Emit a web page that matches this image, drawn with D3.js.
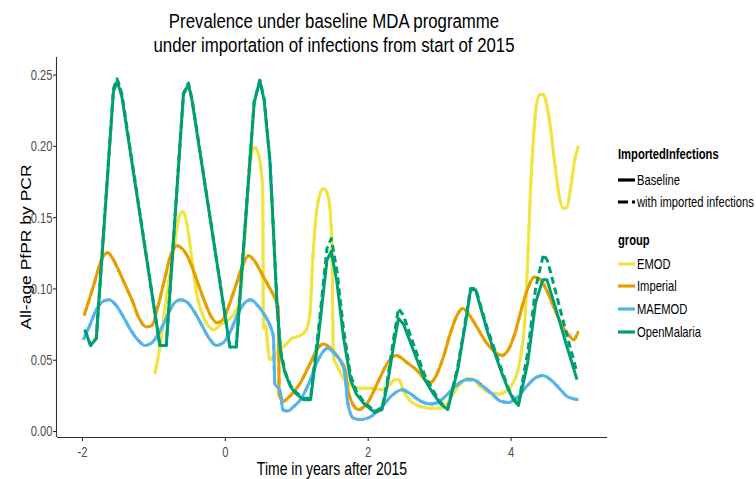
<!DOCTYPE html>
<html>
<head>
<meta charset="utf-8">
<script src="https://cdn.jsdelivr.net/npm/d3@7"></script>
<style>
  html, body { margin: 0; padding: 0; background: #ffffff; }
  svg { display: block; font-family: "Liberation Sans", Arial, sans-serif; }
</style>
</head>
<body>
<svg id="chart" width="756" height="479"></svg>
<script>
// ---------------- DATA ----------------
const titleLines = ["Prevalence under baseline MDA programme", "under importation of infections from start of 2015"];
const xTitle = "Time in years after 2015";
const yTitle = "All-age PfPR by PCR";
const xTicks = [-2, 0, 2, 4];
const yTicks = [0.00, 0.05, 0.10, 0.15, 0.20, 0.25];
const groups = ["EMOD", "Imperial", "MAEMOD", "OpenMalaria"];
const groupColors = ["#F0E442", "#E69F00", "#56B4E9", "#009E73"];
const importLevels = ["Baseline", "with imported infections"];

// [time, prevalence]
const emodBaseline = [
  [-0.98,0.040],[-0.90,0.062],[-0.80,0.100],[-0.72,0.125],[-0.65,0.148],[-0.59,0.154],[-0.53,0.145],
  [-0.46,0.120],[-0.39,0.095],[-0.30,0.080],[-0.22,0.073],[-0.15,0.071],[-0.05,0.075],[0.05,0.078],
  [0.13,0.082],[0.20,0.090],[0.26,0.122],[0.31,0.160],[0.36,0.190],[0.42,0.199],[0.47,0.194],
  [0.51,0.182],[0.53,0.168],[0.54,0.072],[0.57,0.074],[0.60,0.060],[0.63,0.050],[0.68,0.052],
  [0.75,0.056],[0.84,0.060],[0.94,0.065],[1.06,0.067],[1.14,0.071],[1.19,0.082],[1.23,0.120],
  [1.28,0.152],[1.33,0.166],[1.38,0.170],[1.43,0.167],[1.47,0.157],[1.50,0.125],[1.52,0.052],
  [1.58,0.045],[1.66,0.037],[1.76,0.032],[1.90,0.030],[2.05,0.030],[2.20,0.029],[2.30,0.032],
  [2.38,0.036],[2.44,0.036],[2.50,0.028],[2.60,0.021],[2.75,0.017],[2.90,0.016],[3.02,0.016],
  [3.12,0.020],[3.22,0.028],[3.32,0.034],[3.40,0.037],[3.48,0.036],[3.58,0.031],[3.70,0.027],
  [3.85,0.026],[3.96,0.029],[4.04,0.034],[4.10,0.042],[4.15,0.055],[4.20,0.078],[4.24,0.120],
  [4.28,0.170],[4.32,0.205],[4.36,0.228],[4.41,0.236],[4.46,0.236],[4.51,0.228],[4.56,0.212],
  [4.62,0.187],[4.68,0.165],[4.74,0.156],[4.79,0.157],[4.84,0.170],[4.89,0.188],[4.95,0.200]
];
const imperialBaseline = [
  [-1.97,0.081],[-1.90,0.092],[-1.82,0.105],[-1.72,0.121],[-1.64,0.125],[-1.57,0.121],[-1.50,0.114],
  [-1.40,0.103],[-1.30,0.092],[-1.20,0.079],[-1.10,0.073],[-1.02,0.074],[-0.95,0.085],[-0.85,0.105],
  [-0.76,0.123],[-0.67,0.130],[-0.58,0.127],[-0.49,0.119],[-0.40,0.107],[-0.30,0.093],[-0.20,0.081],
  [-0.11,0.076],[-0.03,0.078],[0.05,0.087],[0.14,0.100],[0.24,0.115],[0.33,0.123],[0.42,0.119],
  [0.52,0.110],[0.62,0.101],[0.71,0.092],[0.75,0.086],[0.76,0.025],[0.82,0.021],[0.92,0.025],
  [1.06,0.034],[1.20,0.048],[1.30,0.058],[1.38,0.061],[1.50,0.057],[1.62,0.049],[1.68,0.044],
  [1.72,0.030],[1.80,0.018],[1.87,0.015],[2.00,0.020],[2.14,0.034],[2.27,0.047],[2.40,0.053],
  [2.55,0.048],[2.70,0.042],[2.80,0.036],[2.88,0.034],[2.96,0.039],[3.06,0.052],[3.16,0.069],
  [3.26,0.082],[3.33,0.086],[3.44,0.080],[3.55,0.071],[3.66,0.062],[3.77,0.056],[3.88,0.053],
  [3.98,0.058],[4.07,0.070],[4.16,0.087],[4.25,0.101],[4.33,0.108],[4.42,0.106],[4.52,0.097],
  [4.62,0.085],[4.72,0.074],[4.82,0.067],[4.88,0.064],[4.95,0.070]
];
const maemodBaseline = [
  [-1.98,0.064],[-1.90,0.073],[-1.80,0.085],[-1.70,0.091],[-1.62,0.092],[-1.52,0.088],[-1.42,0.080],
  [-1.32,0.071],[-1.22,0.064],[-1.12,0.060],[-1.02,0.062],[-0.92,0.069],[-0.82,0.079],[-0.72,0.089],
  [-0.62,0.092],[-0.52,0.090],[-0.42,0.083],[-0.32,0.074],[-0.22,0.065],[-0.12,0.060],[-0.02,0.062],
  [0.08,0.070],[0.18,0.082],[0.28,0.090],[0.36,0.092],[0.46,0.088],[0.56,0.081],[0.64,0.073],
  [0.68,0.066],[0.70,0.033],[0.75,0.030],[0.78,0.027],[0.81,0.015],[0.88,0.014],[0.96,0.017],
  [1.06,0.022],[1.18,0.034],[1.28,0.047],[1.38,0.056],[1.44,0.058],[1.54,0.054],[1.64,0.047],
  [1.68,0.040],[1.72,0.020],[1.80,0.009],[1.90,0.008],[2.04,0.010],[2.20,0.017],[2.34,0.025],
  [2.48,0.029],[2.60,0.026],[2.74,0.021],[2.88,0.019],[2.98,0.020],[3.10,0.025],[3.24,0.032],
  [3.38,0.036],[3.48,0.036],[3.60,0.032],[3.74,0.026],[3.86,0.021],[3.97,0.020],[4.10,0.024],
  [4.22,0.031],[4.34,0.037],[4.45,0.039],[4.56,0.036],[4.68,0.030],[4.80,0.024],[4.95,0.022]
];
const openMalariaBaseline = [
  [-1.96,0.071],[-1.88,0.060],[-1.80,0.065],[-1.56,0.238],[-1.51,0.245],[-1.48,0.241],[-1.44,0.234],
  [-0.91,0.060],[-0.82,0.060],[-0.58,0.236],[-0.51,0.243],[-0.46,0.232],[0.07,0.059],[0.16,0.059],
  [0.41,0.230],[0.49,0.246],[0.55,0.232],[0.63,0.190],[0.68,0.140],[0.73,0.088],[0.78,0.055],
  [0.84,0.041],[0.92,0.031],[1.00,0.026],[1.10,0.022],[1.20,0.022],[1.31,0.066],[1.43,0.120],
  [1.49,0.126],[1.57,0.104],[1.66,0.066],[1.76,0.036],[1.84,0.026],[1.95,0.019],[2.10,0.013],
  [2.20,0.015],[2.27,0.031],[2.36,0.059],[2.43,0.079],[2.50,0.075],[2.69,0.050],[2.80,0.036],
  [2.92,0.026],[3.02,0.019],[3.12,0.015],[3.26,0.043],[3.37,0.076],[3.44,0.099],[3.51,0.099],
  [3.68,0.069],[3.86,0.043],[3.96,0.030],[4.04,0.022],[4.11,0.018],[4.24,0.048],[4.35,0.090],
  [4.45,0.106],[4.51,0.106],[4.65,0.083],[4.79,0.059],[4.93,0.036]
];
const openMalariaImported = [
  [-1.96,0.071],[-1.88,0.060],[-1.80,0.065],[-1.56,0.240],[-1.51,0.247],[-1.48,0.243],[-1.44,0.236],
  [-0.91,0.060],[-0.82,0.060],[-0.58,0.237],[-0.51,0.244],[-0.46,0.233],[0.07,0.059],[0.16,0.059],
  [0.41,0.231],[0.49,0.246],[0.55,0.233],[0.63,0.191],[0.68,0.142],[0.73,0.090],[0.78,0.057],
  [0.84,0.042],[0.92,0.032],[1.00,0.027],[1.10,0.023],[1.20,0.023],[1.31,0.071],[1.43,0.128],
  [1.49,0.135],[1.57,0.112],[1.66,0.072],[1.76,0.039],[1.84,0.028],[1.95,0.020],[2.10,0.014],
  [2.20,0.016],[2.27,0.034],[2.36,0.064],[2.43,0.086],[2.50,0.081],[2.69,0.054],[2.80,0.039],
  [2.92,0.028],[3.02,0.020],[3.12,0.016],[3.26,0.045],[3.37,0.078],[3.44,0.100],[3.51,0.100],
  [3.68,0.071],[3.86,0.045],[3.96,0.031],[4.04,0.023],[4.11,0.019],[4.24,0.055],[4.35,0.100],
  [4.46,0.124],[4.52,0.119],[4.65,0.094],[4.79,0.067],[4.93,0.041]
];
// imported-infection runs of the other models overlap their baselines in the picture
const emodImported = emodBaseline;
const imperialImported = imperialBaseline;
const maemodImported = maemodBaseline;

const seriesList = [
  {group: "EMOD", level: "Baseline", values: emodBaseline},
  {group: "EMOD", level: "with imported infections", values: emodImported},
  {group: "Imperial", level: "Baseline", values: imperialBaseline},
  {group: "Imperial", level: "with imported infections", values: imperialImported},
  {group: "MAEMOD", level: "Baseline", values: maemodBaseline},
  {group: "MAEMOD", level: "with imported infections", values: maemodImported},
  {group: "OpenMalaria", level: "Baseline", values: openMalariaBaseline},
  {group: "OpenMalaria", level: "with imported infections", values: openMalariaImported}
];

// ---------------- LAYOUT ----------------
const SX = 0.8; // the reference picture is horizontally compressed
const svg = d3.select("#chart");
svg.append("rect").attr("width", 756).attr("height", 479).attr("fill", "#ffffff");

const panel = {left: 57, right: 607, top: 57, bottom: 437};
const x = d3.scaleLinear().domain([-2.35, 5.35]).range([panel.left, panel.right]);
const y = d3.scaleLinear().domain([-0.0042, 0.2623]).range([panel.bottom, panel.top]);
const color = d3.scaleOrdinal().domain(groups).range(groupColors);
const dash = d3.scaleOrdinal().domain(importLevels).range(["none", "7,4"]);

function label(g, px, py, str, size, anchor, weight) {
  return g.append("text")
    .attr("transform", `translate(${px},${py}) scale(${SX},1)`)
    .attr("text-anchor", anchor || "start")
    .attr("font-size", size)
    .attr("font-weight", weight || "normal")
    .attr("fill", "#000")
    .text(str);
}

// title
titleLines.forEach((t, i) => label(svg, (panel.left + panel.right) / 2 + 2, 28 + i * 24, t, 21, "middle"));

// lines
const smooth = d3.line().x(d => x(d[0])).y(d => y(d[1])).curve(d3.curveMonotoneX);
const straight = d3.line().x(d => x(d[0])).y(d => y(d[1])).curve(d3.curveLinear);
svg.append("g").selectAll("path").data(seriesList).join("path")
  .attr("d", d => (d.group === "OpenMalaria" ? straight : smooth)(d.values))
  .attr("fill", "none")
  .attr("stroke", d => color(d.group))
  .attr("stroke-width", 3)
  .attr("stroke-linejoin", "round")
  .attr("stroke-dasharray", d => dash(d.level));

// axes
const xAxis = d3.axisBottom(x).tickValues(xTicks).tickFormat(d => String(d)).tickSizeOuter(0).tickSize(4).tickPadding(5);
const yAxis = d3.axisLeft(y).tickValues(yTicks).tickFormat(d3.format(".2f")).tickSizeOuter(0).tickSize(4).tickPadding(3);
const gx = svg.append("g").attr("transform", `translate(0,${panel.bottom})`).call(xAxis);
const gy = svg.append("g").attr("transform", `translate(${panel.left},0)`).call(yAxis);
[gx, gy].forEach(g => {
  g.select(".domain").attr("stroke", "#333333").attr("stroke-width", 1.1);
  g.selectAll(".tick line").attr("stroke", "#333333").attr("stroke-width", 1.1);
  g.selectAll(".tick text").attr("fill", "#4d4d4d").attr("font-size", 14)
    .attr("font-family", "Liberation Sans, Arial, sans-serif");
});
gx.selectAll(".tick text").attr("y", 0).attr("dy", null)
  .attr("transform", `translate(0,20) scale(${SX},1)`);
gy.selectAll(".tick text").attr("x", 0).attr("dy", "0.35em")
  .attr("transform", `translate(-4.5,0) scale(${SX},1)`);
gx.select(".domain").attr("d", `M${panel.left},0.5H${panel.right}`);
gy.select(".domain").attr("d", `M-0.5,${panel.bottom}V${panel.top}`);

label(svg, (panel.left + panel.right) / 2, 475, xTitle, 17.5, "middle");
svg.append("text")
  .attr("transform", `translate(31,${(panel.top + panel.bottom) / 2}) scale(${SX},1) rotate(-90)`)
  .attr("text-anchor", "middle").attr("font-size", 17.5).attr("fill", "#000")
  .text(yTitle);

// legend
const lg = svg.append("g");
label(lg, 618, 159, "ImportedInfections", 14, "start", "bold");
const impY = [180, 202];
importLevels.forEach((lev, i) => {
  lg.append("line").attr("x1", 618).attr("x2", 635).attr("y1", impY[i]).attr("y2", impY[i])
    .attr("stroke", "#000").attr("stroke-width", 3.2)
    .attr("stroke-dasharray", i === 0 ? "none" : "10,4,3,20");
  label(lg, 637, impY[i] + 5, lev, 14);
});
label(lg, 618, 245, "group", 14, "start", "bold");
const grpY = [264, 286, 309, 332];
groups.forEach((g, i) => {
  lg.append("line").attr("x1", 618).attr("x2", 635).attr("y1", grpY[i]).attr("y2", grpY[i])
    .attr("stroke", color(g)).attr("stroke-width", 3.2);
  label(lg, 637, grpY[i] + 5, g, 14);
});
</script>
</body>
</html>
